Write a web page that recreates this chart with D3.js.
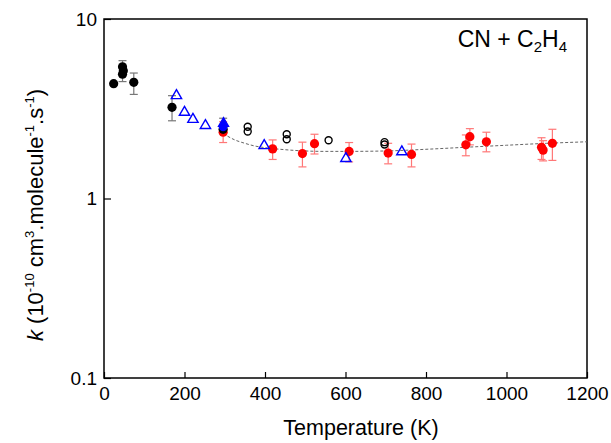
<!DOCTYPE html>
<html><head><meta charset="utf-8">
<script src="https://cdn.jsdelivr.net/npm/d3@7"></script>
<style>body{margin:0;background:#fff}svg{display:block}text{font-family:"Liberation Sans",Arial,sans-serif}</style>
</head><body><svg id="c" width="611" height="443"></svg>
<script>
// Data (T in K, k in 1e-10 cm3 molecule-1 s-1)
const blackFilled = [
  {T:24,k:4.36},{T:46,k:5.42,lo:4.48,hi:5.86},{T:48,k:5.15},{T:46,k:4.93},
  {T:74,k:4.44,lo:3.8,hi:5.0},{T:169,k:3.22,lo:2.71,hi:3.74},{T:296,k:2.43,lo:2.3,hi:2.8}
];
const redFilled = [
  {T:296,k:2.34,lo:2.05,hi:2.68},{T:419,k:1.89,lo:1.65,hi:2.12},{T:493,k:1.78,lo:1.50,hi:2.06},
  {T:523,k:2.02,lo:1.77,hi:2.28},{T:609,k:1.83,lo:1.60,hi:2.05},{T:706,k:1.79,lo:1.56,hi:2.03},
  {T:764,k:1.76,lo:1.50,hi:2.01},{T:899,k:1.99,lo:1.73,hi:2.26},{T:909,k:2.21,lo:1.99,hi:2.45},
  {T:950,k:2.07,lo:1.82,hi:2.34},{T:1087,k:1.93,lo:1.65,hi:2.18},{T:1091,k:1.86,lo:1.62,hi:2.10},
  {T:1114,k:2.03,lo:1.63,hi:2.43}
];
const blueOpenTri = [
  {T:180,k:3.74},{T:200,k:3.02},{T:221,k:2.76},{T:252,k:2.55},{T:398,k:1.97},{T:601,k:1.67},{T:740,k:1.82}
];
const blueFilledTri = [{T:297,k:2.62}];
const blueFilledCirc = [{T:296,k:2.50}];
const blackOpen = [
  {T:357,k:2.51},{T:357,k:2.36},{T:454,k:2.28},{T:454,k:2.14},{T:558,k:2.11},{T:697,k:2.06},{T:697,k:2.00}
];
const fitT = [296,325,350,375,400,450,500,550,600,700,800,900,1000,1100,1200];
const fitK = [2.30,2.12,2.03,1.96,1.92,1.87,1.84,1.83,1.83,1.84,1.88,1.93,1.98,2.03,2.07];
const xTicks = [0,200,400,600,800,1000,1200];
const yTicks = [0.1,1,10];

const svg = d3.select("#c");
const m = {l:104, t:19, r:587, b:378};
const x = d3.scaleLinear().domain([0,1200]).range([m.l,m.r]);
const y = d3.scaleLog().domain([0.1,10]).range([m.b,m.t]);

// axes (inward ticks)
svg.append("g").attr("transform",`translate(0,${m.b})`)
  .call(d3.axisBottom(x).tickValues(xTicks).tickSizeInner(-6).tickSizeOuter(0).tickPadding(9).tickFormat(d3.format("d")))
  .call(g=>{g.select(".domain").remove();g.selectAll("line").attr("stroke","#000").attr("stroke-width",1.2);
    g.selectAll("text").attr("font-size",19).attr("fill","#000").attr("font-family","Liberation Sans, Arial");});
svg.append("g").attr("transform",`translate(${m.l},0)`)
  .call(d3.axisLeft(y).tickValues(yTicks).tickSizeInner(-7).tickSizeOuter(0).tickPadding(7).tickFormat(d=>d<1?"0.1":String(d)))
  .call(g=>{g.select(".domain").remove();g.selectAll("line").attr("stroke","#000").attr("stroke-width",1.2);
    g.selectAll("text").attr("font-size",19).attr("fill","#000").attr("font-family","Liberation Sans, Arial");});

// frame
svg.append("rect").attr("x",m.l).attr("y",m.t).attr("width",m.r-m.l).attr("height",m.b-m.t)
  .attr("fill","none").attr("stroke","#000").attr("stroke-width",1.5);

// fit line
const fit = fitT.map((t,i)=>[t,fitK[i]]);
svg.append("path").datum(fit).attr("fill","none").attr("stroke","#666").attr("stroke-width",1)
  .attr("stroke-dasharray","3,2")
  .attr("d",d3.line().x(d=>x(d[0])).y(d=>y(d[1])).curve(d3.curveMonotoneX));

function errBars(data,color){
  const g = svg.append("g").attr("stroke",color).attr("stroke-width",1.2);
  data.filter(d=>d.lo!=null).forEach(d=>{
    g.append("line").attr("x1",x(d.T)).attr("x2",x(d.T)).attr("y1",y(d.lo)).attr("y2",y(d.hi));
    g.append("line").attr("x1",x(d.T)-4).attr("x2",x(d.T)+4).attr("y1",y(d.lo)).attr("y2",y(d.lo));
    g.append("line").attr("x1",x(d.T)-4).attr("x2",x(d.T)+4).attr("y1",y(d.hi)).attr("y2",y(d.hi));
  });
}
errBars(redFilled,"#f77");
errBars(blackFilled,"#777");

svg.append("g").selectAll("circle").data(redFilled).join("circle")
  .attr("cx",d=>x(d.T)).attr("cy",d=>y(d.k)).attr("r",4.6).attr("fill","#f00");
svg.append("g").selectAll("circle").data(blackFilled).join("circle")
  .attr("cx",d=>x(d.T)).attr("cy",d=>y(d.k)).attr("r",4.6).attr("fill","#000");
svg.append("g").selectAll("circle").data(blackOpen).join("circle")
  .attr("cx",d=>x(d.T)).attr("cy",d=>y(d.k)).attr("r",3.5).attr("fill","none").attr("stroke","#000").attr("stroke-width",1.4);

const tri = d3.symbol().type(d3.symbolTriangle).size(46);
svg.append("g").selectAll("path").data(blueOpenTri).join("path")
  .attr("transform",d=>`translate(${x(d.T)},${y(d.k)})`).attr("d",tri)
  .attr("fill","none").attr("stroke","#00f").attr("stroke-width",1.4);
svg.append("g").selectAll("circle").data(blueFilledCirc).join("circle")
  .attr("cx",d=>x(d.T)).attr("cy",d=>y(d.k)).attr("r",4.3).attr("fill","#00f");
svg.append("g").selectAll("path").data(blueFilledTri).join("path")
  .attr("transform",d=>`translate(${x(d.T)},${y(d.k)})`).attr("d",tri)
  .attr("fill","#00f").attr("stroke","#00f").attr("stroke-width",1.2);

// annotation
const ann = svg.append("text").attr("x",567).attr("y",47).attr("text-anchor","end").attr("font-size",23).attr("fill","#000");
ann.append("tspan").text("CN + C");
ann.append("tspan").attr("font-size",15).attr("dy",5).text("2");
ann.append("tspan").attr("dy",-5).text("H");
ann.append("tspan").attr("font-size",15).attr("dy",5).text("4");

// x title
svg.append("text").attr("x",361).attr("y",435).attr("text-anchor","middle").attr("font-size",21.5).attr("fill","#000").text("Temperature (K)");

// y title
const yt = svg.append("text").attr("transform","translate(43,215) rotate(-90)").attr("text-anchor","middle").attr("font-size",22).attr("fill","#000");
yt.append("tspan").attr("font-style","italic").text("k");
yt.append("tspan").text(" (10");
yt.append("tspan").attr("font-size",13).attr("dy",-9).text("-10");
yt.append("tspan").attr("dy",9).text(" cm");
yt.append("tspan").attr("font-size",13).attr("dy",-9).text("3");
yt.append("tspan").attr("dy",9).text(".molecule");
yt.append("tspan").attr("font-size",13).attr("dy",-9).text("-1");
yt.append("tspan").attr("dy",9).text(".s");
yt.append("tspan").attr("font-size",13).attr("dy",-9).text("-1");
yt.append("tspan").attr("dy",9).text(")");
</script></body></html>
